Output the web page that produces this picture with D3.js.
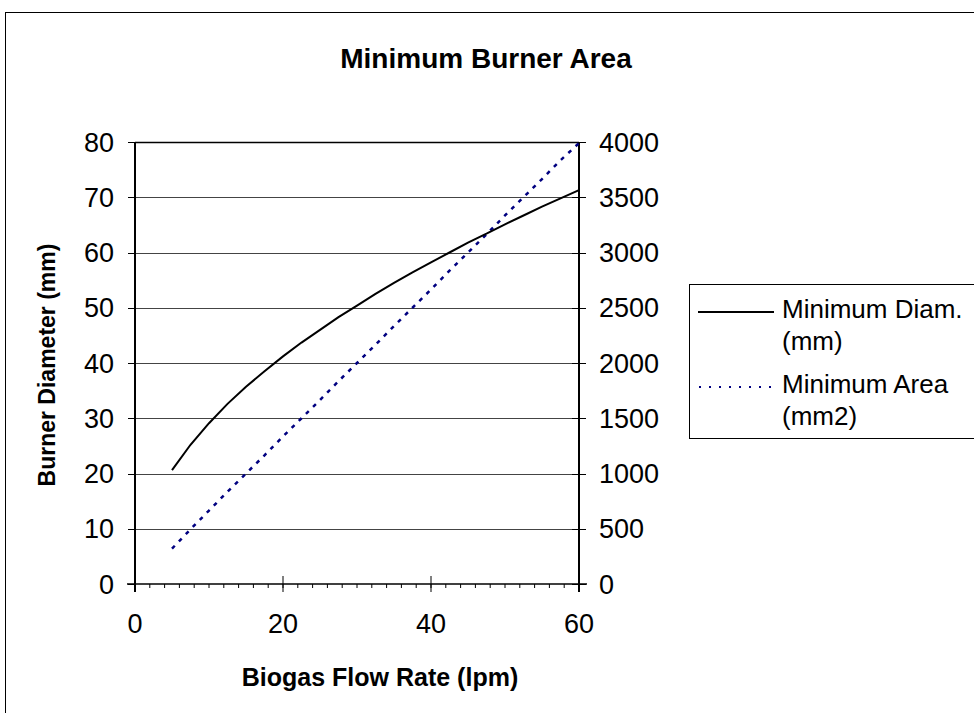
<!DOCTYPE html>
<html>
<head>
<meta charset="utf-8">
<script src="https://cdn.jsdelivr.net/npm/d3@7"></script>
<style>
  body { margin: 0; background: #fff; }
  svg { font-family: "Liberation Sans", Arial, sans-serif; }
</style>
</head>
<body>
<svg id="chart" width="974" height="713"></svg>
<script>
// flow rate (lpm) and the two series
const flowRates = [5, 7.5, 10, 12.5, 15, 17.5, 20, 22.5, 25, 27.5, 30, 32.5, 35, 37.5, 40, 42.5, 45, 47.5, 50, 52.5, 55, 57.5, 60];
const minDiameter = [20.6, 25.2, 29.1, 32.6, 35.7, 38.5, 41.2, 43.7, 46.0, 48.3, 50.4, 52.5, 54.5, 56.4, 58.2, 60.0, 61.8, 63.4, 65.1, 66.7, 68.3, 69.8, 71.3];
const minArea = [320, 495, 665, 835, 1000, 1165, 1335, 1500, 1665, 1835, 2000, 2165, 2335, 2500, 2665, 2835, 3000, 3165, 3335, 3500, 3665, 3835, 3990];

const xTicks = [0, 20, 40, 60];
const leftTicks = [0, 10, 20, 30, 40, 50, 60, 70, 80];
const rightTicks = [0, 500, 1000, 1500, 2000, 2500, 3000, 3500, 4000];
const legendLabels = [["Minimum Diam.", "(mm)"], ["Minimum Area", "(mm2)"]];

const svg = d3.select("#chart");

// plot area box
const plot = { left: 135, right: 579, top: 142, bottom: 584 };

// outer chart border (runs off right and bottom)
svg.append("rect")
  .attr("x", 5.5).attr("y", 12.5)
  .attr("width", 1000).attr("height", 1000)
  .attr("fill", "none").attr("stroke", "#000").attr("stroke-width", 1);

const x = d3.scaleLinear().domain([0, 60]).range([plot.left, plot.right]);
const yL = d3.scaleLinear().domain([0, 80]).range([plot.bottom, plot.top]);
const yR = d3.scaleLinear().domain([0, 4000]).range([plot.bottom, plot.top]);

// gridlines
svg.append("g")
  .selectAll("line")
  .data(leftTicks.filter(d => d > 0 && d < 80))
  .enter().append("line")
  .attr("x1", plot.left).attr("x2", plot.right)
  .attr("y1", d => Math.round(yL(d)) + 0.5).attr("y2", d => Math.round(yL(d)) + 0.5)
  .attr("stroke", "#444").attr("stroke-width", 1);

// top border of plot area
svg.append("line")
  .attr("x1", plot.left).attr("x2", plot.right)
  .attr("y1", plot.top + 0.5).attr("y2", plot.top + 0.5)
  .attr("stroke", "#000").attr("stroke-width", 1.3);

// X axis with crossing majors and minor ticks every 2
const xAxis = svg.append("g").attr("transform", `translate(0,${plot.bottom})`);
xAxis.append("line")
  .attr("x1", plot.left - 8).attr("x2", plot.right + 8)
  .attr("stroke", "#000").attr("stroke-width", 1.5);
xAxis.selectAll(".minor")
  .data(d3.range(0, 61, 2))
  .enter().append("line")
  .attr("x1", d => x(d)).attr("x2", d => x(d))
  .attr("y1", 0).attr("y2", 4)
  .attr("stroke", "#000").attr("stroke-width", 1);
xAxis.selectAll(".major")
  .data(xTicks)
  .enter().append("line")
  .attr("x1", d => x(d)).attr("x2", d => x(d))
  .attr("y1", -8).attr("y2", 8)
  .attr("stroke", "#000").attr("stroke-width", 1);
xAxis.selectAll("text")
  .data(xTicks)
  .enter().append("text")
  .attr("x", d => x(d)).attr("y", 49)
  .attr("text-anchor", "middle")
  .attr("font-size", 27)
  .text(d => d);

// left axis
const leftAxis = svg.append("g").attr("transform", `translate(${plot.left},0)`);
leftAxis.append("line")
  .attr("y1", plot.top).attr("y2", plot.bottom + 8)
  .attr("stroke", "#000").attr("stroke-width", 2);
leftAxis.selectAll(".tick")
  .data(leftTicks)
  .enter().append("line")
  .attr("x1", -7).attr("x2", 0)
  .attr("y1", d => Math.round(yL(d)) + 0.5).attr("y2", d => Math.round(yL(d)) + 0.5)
  .attr("stroke", "#000").attr("stroke-width", 1);
leftAxis.selectAll("text")
  .data(leftTicks)
  .enter().append("text")
  .attr("x", -21).attr("y", d => yL(d) + 9.5)
  .attr("text-anchor", "end")
  .attr("font-size", 27)
  .text(d => d);

// right axis
const rightAxis = svg.append("g").attr("transform", `translate(${plot.right},0)`);
rightAxis.append("line")
  .attr("y1", plot.top).attr("y2", plot.bottom + 8)
  .attr("stroke", "#000").attr("stroke-width", 2);
rightAxis.selectAll(".tick")
  .data(rightTicks)
  .enter().append("line")
  .attr("x1", -7).attr("x2", 7)
  .attr("y1", d => Math.round(yR(d)) + 0.5).attr("y2", d => Math.round(yR(d)) + 0.5)
  .attr("stroke", "#000").attr("stroke-width", 1);
rightAxis.selectAll("text")
  .data(rightTicks)
  .enter().append("text")
  .attr("x", 20).attr("y", d => yR(d) + 9.5)
  .attr("text-anchor", "start")
  .attr("font-size", 27)
  .text(d => d);

// series lines
const diamLine = d3.line().x((d, i) => x(flowRates[i])).y(d => yL(d));
const areaLine = d3.line().x((d, i) => x(flowRates[i])).y(d => yR(d));

svg.append("path")
  .datum(minArea)
  .attr("d", areaLine)
  .attr("fill", "none")
  .attr("stroke", "#000080")
  .attr("stroke-width", 2.5)
  .attr("stroke-dasharray", "4,6");

svg.append("path")
  .datum(minDiameter)
  .attr("d", diamLine)
  .attr("fill", "none")
  .attr("stroke", "#000")
  .attr("stroke-width", 2);

// title and axis titles
svg.append("text")
  .attr("x", 486).attr("y", 68)
  .attr("text-anchor", "middle")
  .attr("font-size", 28).attr("font-weight", "bold")
  .text("Minimum Burner Area");

svg.append("text")
  .attr("x", 380).attr("y", 686)
  .attr("text-anchor", "middle")
  .attr("font-size", 25).attr("font-weight", "bold")
  .text("Biogas Flow Rate (lpm)");

svg.append("text")
  .attr("transform", `translate(55,${(plot.top + plot.bottom) / 2 + 2}) rotate(-90)`)
  .attr("text-anchor", "middle")
  .attr("font-size", 23).attr("font-weight", "bold")
  .text("Burner Diameter (mm)");

// legend
const legend = svg.append("g");
legend.append("rect")
  .attr("x", 689.5).attr("y", 284.5)
  .attr("width", 300).attr("height", 154)
  .attr("fill", "#fff").attr("stroke", "#000").attr("stroke-width", 1);

const legendY = [312, 387];
legend.append("line")
  .attr("x1", 698).attr("x2", 774)
  .attr("y1", legendY[0]).attr("y2", legendY[0])
  .attr("stroke", "#000").attr("stroke-width", 2);
legend.append("line")
  .attr("x1", 699).attr("x2", 774)
  .attr("y1", legendY[1]).attr("y2", legendY[1])
  .attr("stroke", "#000080").attr("stroke-width", 2)
  .attr("stroke-dasharray", "2,8");

legendLabels.forEach((lines, i) => {
  lines.forEach((t, j) => {
    legend.append("text")
      .attr("x", 782).attr("y", legendY[i] + 6 + j * 32)
      .attr("font-size", 26)
      .text(t);
  });
});
</script>
</body>
</html>
